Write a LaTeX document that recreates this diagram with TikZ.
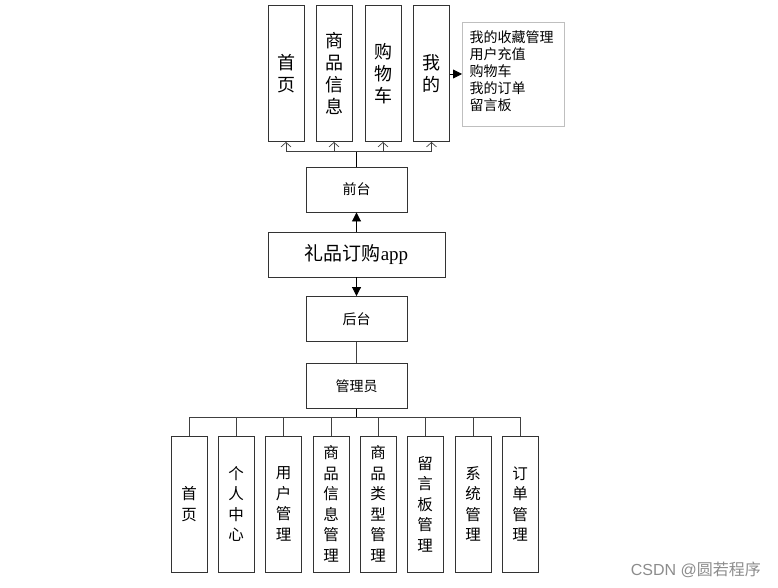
\documentclass[tikz,border=0pt]{standalone}
\usepackage{fontspec}
\setmainfont{Noto Sans CJK SC}
\newfontfamily\lat{Liberation Serif}
\newfontfamily\wm{Liberation Sans}
\usetikzlibrary{arrows.meta,shadows}
\begin{document}
\begin{tikzpicture}[x=1pt,y=-1pt,
  box/.style={draw=black!80,line width=0.9pt,fill=white,inner sep=0pt},
  tbox/.style={box,minimum width=36pt,minimum height=136pt,align=center,font=\fontsize{18}{22}\selectfont},
  bbox/.style={box,minimum width=36pt,minimum height=136pt,align=center,font=\fontsize{15.5}{20.5}\selectfont},
  mbox/.style={box,minimum width=101pt,minimum height=45pt,font=\fontsize{14}{16}\selectfont},
  conn/.style={draw=black!75,line width=0.8pt},
  openarr/.style={conn,-{Straight Barb[length=4.5pt,width=10pt,line width=0.7pt]}},
  fillarr/.style={draw=black,line width=0.9pt,-{Triangle[length=9pt,width=9pt]}}
]
\useasboundingbox (0,0) rectangle (778,588);
% top boxes
\node[tbox] (t1) at (286,73.5) {首\\页};
\node[tbox] (t2) at (334,73.5) {商\\品\\信\\息};
\node[tbox] (t3) at (383,73.5) {购\\物\\车};
\node[tbox] (t4) at (431.5,73.5) {我\\的};
\node[draw=black!25,line width=0.8pt,fill=white,drop shadow={shadow xshift=1pt,shadow yshift=-1pt,fill=black!15},minimum width=102pt,minimum height=104pt,anchor=north west] (side) at (462,22) {};
\node[anchor=north west,align=left,inner sep=0pt,font=\fontsize{14}{17}\selectfont] (sidetxt) at (469.5,30) {我的收藏管理\\用户充值\\购物车\\我的订单\\留言板};
\draw[fillarr] (t4.east |- 0,74) -- (side.west |- 0,74);
% middle
\node[mbox] (qt) at (356.5,189.5) {前台};
\node[box,minimum width=177pt,minimum height=45pt,font=\fontsize{19}{22}\selectfont] (app) at (356.5,254.5) {礼品订购{\lat app}};
\node[mbox] (ht) at (356.5,319) {后台};
\node[mbox] (gly) at (356.5,386) {管理员};
\coordinate (tj) at (356.5,151);
\draw[draw=black,line width=1.1pt] (qt.north) -- (tj);
\draw[conn] (t1.south |- tj) -- (t4.south |- tj);
\draw[openarr] (t1.south |- tj) -- (t1.south);
\draw[openarr] (t2.south |- tj) -- (t2.south);
\draw[openarr] (t3.south |- tj) -- (t3.south);
\draw[openarr] (t4.south |- tj) -- (t4.south);
\draw[fillarr] (app.north) -- (qt.south);
\draw[fillarr] (app.south) -- (ht.north);
\draw[conn] (ht.south) -- (gly.north);
% bottom
\node[bbox] (b1) at (189,504) {首\\页};
\node[bbox] (b2) at (236,504) {个\\人\\中\\心};
\node[bbox] (b3) at (283.5,504) {用\\户\\管\\理};
\node[bbox] (b4) at (331,504) {商\\品\\信\\息\\管\\理};
\node[bbox] (b5) at (378,504) {商\\品\\类\\型\\管\\理};
\node[bbox] (b6) at (425,504) {留\\言\\板\\管\\理};
\node[bbox] (b7) at (473,504) {系\\统\\管\\理};
\node[bbox] (b8) at (520,504) {订\\单\\管\\理};
\coordinate (bj) at (356.5,417);
\draw[draw=black,line width=1.1pt] (gly.south) -- (bj);
\draw[conn] (b1.north |- bj) -- (b8.north |- bj);
\foreach \i in {1,...,8} {\draw[conn] (b\i.north |- bj) -- (b\i.north);}
% watermark
\node[anchor=east,text=black!45,font=\fontsize{16}{18}\selectfont,inner sep=0pt] (wmk) at (761,570) {{\wm CSDN @}圆若程序};
\end{tikzpicture}
\end{document}
